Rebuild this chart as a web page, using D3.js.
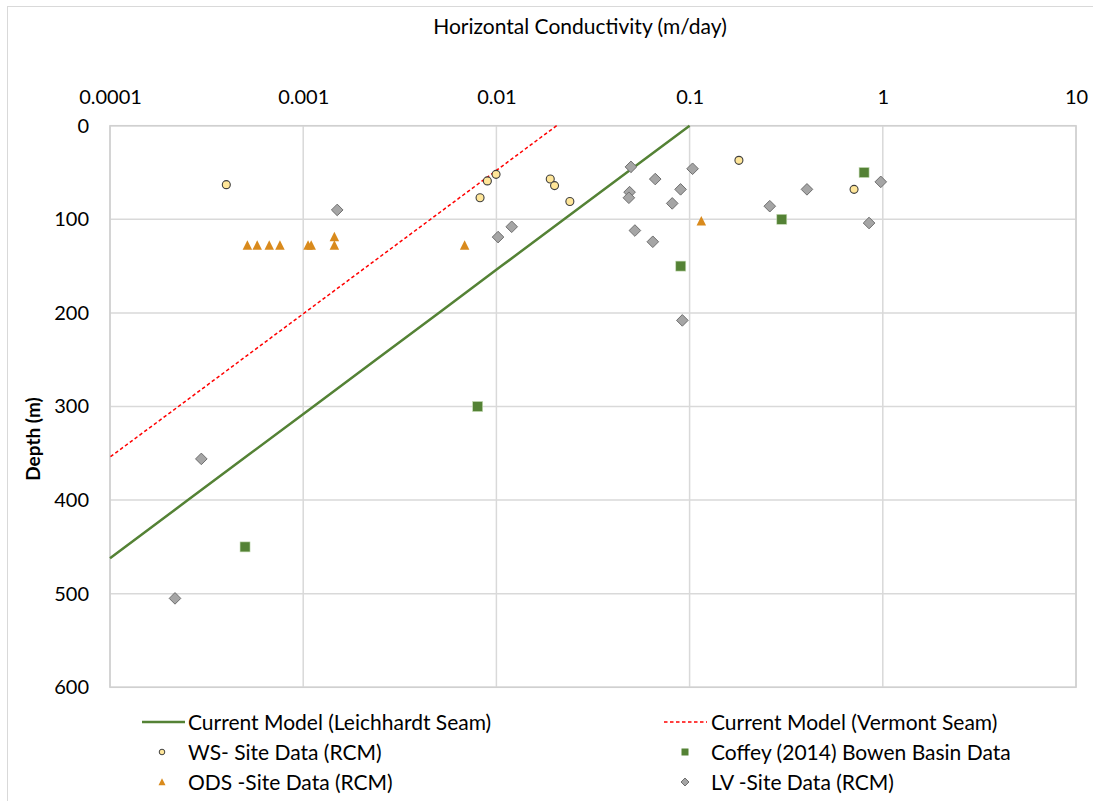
<!DOCTYPE html>
<html>
<head>
<meta charset="utf-8">
<script src="https://cdn.jsdelivr.net/npm/d3@7/dist/d3.min.js"></script>
<style>
  html, body { margin: 0; padding: 0; background: #fff; }
  svg { display: block; font-family: Lato, "Liberation Sans", sans-serif; }
</style>
</head>
<body>
<svg id="chart" width="1093" height="801"></svg>
<script>
// Axis ticks
const xTickValues = [0.0001, 0.001, 0.01, 0.1, 1, 10];
const xTickLabels = ["0.0001", "0.001", "0.01", "0.1", "1", "10"];
const yTickValues = [0, 100, 200, 300, 400, 500, 600];

// Model lines: depth (m) and horizontal conductivity (m/day)
const leichhardtDepth = [0, 50, 100, 150, 200, 250, 300, 350, 400, 462];
const leichhardtK = [0.1, 0.0473, 0.0224, 0.0106, 0.00503, 0.00238, 0.00113, 0.000534, 0.000253, 0.0001];
const vermontDepth = [0, 50, 100, 150, 200, 250, 300, 354];
const vermontK = [0.0205, 0.00967, 0.00456, 0.00215, 0.001015, 0.000479, 0.000226, 0.0001];

// WS site data
const wsK = [0.0004, 0.00823, 0.00898, 0.00996, 0.019, 0.020, 0.024, 0.18, 0.71];
const wsDepth = [63, 77, 59, 52, 57, 64, 81, 37, 68];

// ODS site data
const odsK = [0.000514, 0.000578, 0.000667, 0.000758, 0.00106, 0.00110, 0.00145, 0.00145, 0.00685, 0.115];
const odsDepth = [128, 128, 128, 128, 128, 128, 128, 119, 128, 102];

// Coffey (2014) Bowen Basin data
const coffeyK = [0.8, 0.3, 0.09, 0.008, 0.0005];
const coffeyDepth = [50, 100, 150, 300, 450];

// LV site data
const lvK = [0.0015, 0.0102, 0.012, 0.0497, 0.0489, 0.0485, 0.0664, 0.1036, 0.0898, 0.0813,
             0.0521, 0.0645, 0.0917, 0.405, 0.26, 0.976, 0.849, 0.000297, 0.000217];
const lvDepth = [90, 119, 108, 44, 71, 77, 57, 46, 68, 83,
                 112, 124, 208, 68, 86, 60, 104, 356, 505];

// Legend entries
const legendLabels = [
  "Current Model (Leichhardt Seam)", "Current Model (Vermont Seam)",
  "WS- Site Data (RCM)", "Coffey (2014) Bowen Basin Data",
  "ODS -Site Data (RCM)", "LV -Site Data (RCM)"
];

const svg = d3.select("#chart");
const plot = { left: 110, right: 1076, top: 125.7, bottom: 687.3 };

const x = d3.scaleLog().domain([0.0001, 10]).range([plot.left, plot.right]);
const y = d3.scaleLinear().domain([0, 600]).range([plot.top, plot.bottom]);

const colors = {
  grid: "#d9d9d9",
  leich: "#548235",
  verm: "#ff0000",
  wsFill: "#ffe699", wsStroke: "#3f3f3f",
  ods: "#d98a1c",
  coffey: "#548235",
  lvFill: "#a5a5a5", lvStroke: "#6f6f6f",
  text: "#000"
};

// Outer chart frame
svg.append("rect")
  .attr("x", 7.5).attr("y", 6.5).attr("width", 1100).attr("height", 810)
  .attr("fill", "none").attr("stroke", "#d9d9d9").attr("stroke-width", 1);

// Gridlines
svg.append("g").selectAll("line").data(xTickValues).join("line")
  .attr("x1", d => x(d)).attr("x2", d => x(d))
  .attr("y1", plot.top).attr("y2", plot.bottom)
  .attr("stroke", colors.grid).attr("stroke-width", 1.5);
svg.append("g").selectAll("line").data(yTickValues).join("line")
  .attr("x1", plot.left).attr("x2", plot.right)
  .attr("y1", d => y(d)).attr("y2", d => y(d))
  .attr("stroke", colors.grid).attr("stroke-width", 1.5);
svg.append("rect")
  .attr("x", plot.left).attr("y", plot.top)
  .attr("width", plot.right - plot.left).attr("height", plot.bottom - plot.top)
  .attr("fill", "none").attr("stroke", "#d0d0d0").attr("stroke-width", 1.5);

// Top x axis labels
const xAxis = d3.axisTop(x).tickValues(xTickValues)
  .tickFormat((d, i) => xTickLabels[i]).tickSize(0).tickPadding(22);
const gx = svg.append("g").attr("transform", `translate(0,${plot.top})`).call(xAxis);
gx.select(".domain").remove();
gx.selectAll("text").attr("font-size", 20).attr("fill", colors.text)
  .style("font-family", "Lato, 'Liberation Sans', sans-serif");

// Left y axis labels
const yAxis = d3.axisLeft(y).tickValues(yTickValues).tickSize(0).tickPadding(21);
const gy = svg.append("g").attr("transform", `translate(${plot.left},0)`).call(yAxis);
gy.select(".domain").remove();
gy.selectAll("text").attr("font-size", 20).attr("fill", colors.text)
  .style("font-family", "Lato, 'Liberation Sans', sans-serif");

// Axis titles
svg.append("text")
  .attr("x", 580).attr("y", 34).attr("text-anchor", "middle")
  .attr("font-size", 21).attr("fill", colors.text)
  .text("Horizontal Conductivity (m/day)");
svg.append("text")
  .attr("transform", "translate(40,439) rotate(-90)")
  .attr("text-anchor", "middle").attr("font-size", 19).attr("font-weight", "bold")
  .attr("fill", colors.text).text("Depth (m)");

// Model lines
const line = d3.line().x(d => x(d.k)).y(d => y(d.d));
const leichData = leichhardtDepth.map((d, i) => ({ d, k: leichhardtK[i] }));
const vermData = vermontDepth.map((d, i) => ({ d, k: vermontK[i] }));

svg.append("path").datum(vermData).attr("d", line)
  .attr("fill", "none").attr("stroke", colors.verm).attr("stroke-width", 1.5)
  .attr("stroke-dasharray", "3.5,2.5");
svg.append("path").datum(leichData).attr("d", line)
  .attr("fill", "none").attr("stroke", colors.leich).attr("stroke-width", 2.5);

// Marker shapes
const triPath = (cx, cy, s) => `M${cx},${cy - s * 0.55}L${cx + s / 2},${cy + s * 0.45}L${cx - s / 2},${cy + s * 0.45}Z`;
const diaPath = (cx, cy, r) => `M${cx},${cy - r}L${cx + r},${cy}L${cx},${cy + r}L${cx - r},${cy}Z`;

// ODS triangles
svg.append("g").selectAll("path").data(odsK.map((k, i) => ({ k, d: odsDepth[i] }))).join("path")
  .attr("d", p => triPath(x(p.k), y(p.d), 9.5))
  .attr("fill", colors.ods);

// LV diamonds
svg.append("g").selectAll("path").data(lvK.map((k, i) => ({ k, d: lvDepth[i] }))).join("path")
  .attr("d", p => diaPath(x(p.k), y(p.d), 5.8))
  .attr("fill", colors.lvFill).attr("stroke", colors.lvStroke).attr("stroke-width", 1);

// Coffey squares
svg.append("g").selectAll("rect").data(coffeyK.map((k, i) => ({ k, d: coffeyDepth[i] }))).join("rect")
  .attr("x", p => x(p.k) - 5).attr("y", p => y(p.d) - 5)
  .attr("width", 10).attr("height", 10)
  .attr("fill", colors.coffey).attr("stroke", "#c5dbb5").attr("stroke-width", 0.6);

// WS circles
svg.append("g").selectAll("circle").data(wsK.map((k, i) => ({ k, d: wsDepth[i] }))).join("circle")
  .attr("cx", p => x(p.k)).attr("cy", p => y(p.d)).attr("r", 4)
  .attr("fill", colors.wsFill).attr("stroke", colors.wsStroke).attr("stroke-width", 1.1);

// Legend
const legCols = [{ sym: 162, text: 188 }, { sym: 685, text: 711 }];
const legRows = [722, 752, 782];
const leg = svg.append("g");
legendLabels.forEach((label, i) => {
  const col = legCols[i % 2], row = legRows[Math.floor(i / 2)];
  leg.append("text").attr("x", col.text).attr("y", row + 7.5)
    .attr("font-size", 21).attr("fill", colors.text).text(label);
  const g = leg.append("g");
  if (i === 0) {
    g.append("line").attr("x1", col.sym - 20).attr("x2", col.sym + 23)
      .attr("y1", row).attr("y2", row).attr("stroke", colors.leich).attr("stroke-width", 2.5);
  } else if (i === 1) {
    g.append("line").attr("x1", col.sym - 21).attr("x2", col.sym + 22)
      .attr("y1", row).attr("y2", row).attr("stroke", colors.verm).attr("stroke-width", 1.3)
      .attr("stroke-dasharray", "3.5,2.5");
  } else if (i === 2) {
    g.append("circle").attr("cx", col.sym).attr("cy", row).attr("r", 2.8)
      .attr("fill", colors.wsFill).attr("stroke", colors.wsStroke).attr("stroke-width", 1);
  } else if (i === 3) {
    g.append("rect").attr("x", col.sym - 3.5).attr("y", row - 3.5)
      .attr("width", 7).attr("height", 7).attr("fill", colors.coffey);
  } else if (i === 4) {
    g.append("path").attr("d", triPath(col.sym, row, 7)).attr("fill", colors.ods);
  } else {
    g.append("path").attr("d", diaPath(col.sym, row, 4))
      .attr("fill", colors.lvFill).attr("stroke", colors.lvStroke).attr("stroke-width", 1);
  }
});
</script>
</body>
</html>
